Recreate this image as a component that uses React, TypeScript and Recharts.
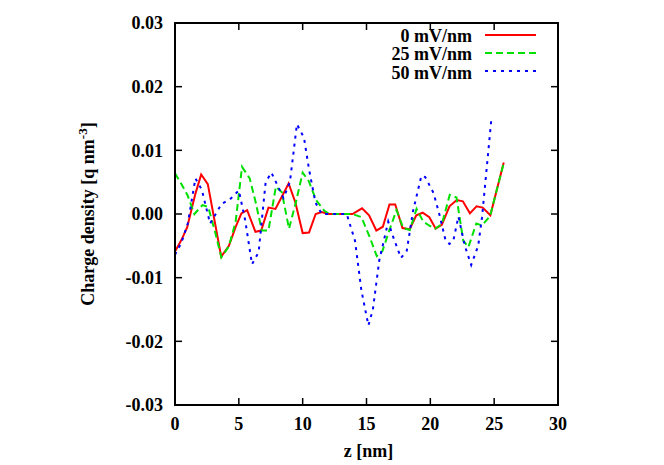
import React from 'react';
import { LineChart, Line, XAxis, YAxis, Legend } from 'recharts';

// z positions [nm] and charge density [q nm^-3]
const redZ = [0, 0.5, 0.95, 1.6, 2.05, 2.57, 3.62, 4.22, 4.76, 5.2, 5.65, 6.3, 6.75, 7.32, 7.87, 8.9, 9.43, 10.0, 10.5, 11.02, 11.5, 12.0, 13.9, 14.65, 15.2, 15.77, 16.28, 16.8, 17.25, 17.82, 18.38, 18.9, 19.4, 19.92, 20.42, 20.9, 21.5, 22.07, 22.55, 23.1, 23.62, 24.1, 24.7, 25.75];
const redRho = [-0.0059, -0.0041, -0.0021, 0.0032, 0.0062, 0.0047, -0.0067, -0.005, -0.002, 0.0001, 0.0006, -0.0028, -0.0026, 0.001, 0.0008, 0.0048, 0.0018, -0.003, -0.0029, 0.0, 0.0003, 0.0, 0.0, 0.0009, -0.0002, -0.0026, -0.002, 0.0015, 0.0015, -0.0022, -0.0024, -0.0002, 0.0002, -0.0005, -0.0023, -0.0017, 0.0012, 0.0022, 0.002, 0.0001, 0.0012, 0.001, -0.0002, 0.0081];

const greenZ = [0, 0.5, 0.97, 1.52, 2.15, 2.6, 3.1, 3.63, 4.22, 4.75, 5.25, 5.85, 6.3, 6.8, 7.32, 7.9, 8.37, 8.93, 9.45, 10.0, 10.47, 11.05, 11.7, 12.1, 13.9, 14.6, 15.25, 15.8, 16.25, 16.8, 17.35, 17.88, 18.4, 18.92, 19.45, 19.9, 20.38, 20.9, 21.52, 22.05, 22.58, 22.98, 23.6, 24.05, 24.68, 25.75];
const greenRho = [0.0064, 0.0047, 0.003, 0.0, 0.0014, 0.0011, -0.0025, -0.0068, -0.0051, -0.0012, 0.0074, 0.0056, 0.002, -0.0026, -0.0026, 0.0043, 0.0034, -0.0023, 0.0017, 0.0065, 0.0052, 0.0022, 0.0005, 0.0, 0.0, -0.0005, -0.0036, -0.0066, -0.0058, -0.0025, 0.0006, -0.0022, -0.0025, 0.0008, -0.0012, -0.0018, -0.0023, -0.0016, 0.003, 0.0026, -0.0042, -0.0052, -0.0015, -0.0018, -0.0003, 0.008];

const blueZ = [0, 0.5, 1.0, 1.6, 2.1, 2.75, 3.65, 4.3, 5.0, 5.5, 6.03, 6.55, 7.1, 7.55, 8.1, 8.5, 9.0, 9.55, 10.1, 10.5, 11.0, 11.5, 13.45, 14.1, 14.6, 15.15, 15.5, 16.0, 16.7, 17.0, 17.7, 18.15, 18.65, 19.3, 19.6, 20.25, 20.7, 21.2, 21.5, 21.8, 22.2, 22.7, 23.2, 23.75, 24.05, 24.78];
const blueRho = [-0.0064, -0.0045, -0.0015, 0.0056, 0.0038, -0.0015, 0.0016, 0.0023, 0.0037, -0.001, -0.0079, -0.006, 0.005, 0.0065, 0.0042, 0.0025, 0.005, 0.0141, 0.012, 0.007, 0.0018, 0.0, 0.0, -0.0042, -0.012, -0.0175, -0.015, -0.0073, -0.0012, -0.0031, -0.0069, -0.0058, 0.0005, 0.006, 0.0058, 0.0033, 0.0, -0.0042, -0.0047, -0.0042, -0.0004, -0.005, -0.008, -0.005, -0.0005, 0.0149];

const xTicks = [0, 5, 10, 15, 20, 25, 30];
const yTicks = [-0.03, -0.02, -0.01, 0, 0.01, 0.02, 0.03];

const zip = (zs: number[], rs: number[]) => zs.map((z, i) => ({ z, rho: rs[i] }));

const SERIES = [
  { name: '0 mV/nm', color: '#ff0000', dash: undefined, data: zip(redZ, redRho) },
  { name: '25 mV/nm', color: '#00e000', dash: '7 4', data: zip(greenZ, greenRho) },
  { name: '50 mV/nm', color: '#0000ff', dash: '3 5', data: zip(blueZ, blueRho) },
];

// chart geometry
const W = 664;
const H = 465;
const MARGIN = { top: 23, right: 106, bottom: 59, left: 174 };
const Y_AXIS_W = 1;
const X_AXIS_H = 1;
const PLOT_X = MARGIN.left + Y_AXIS_W;
const PLOT_Y = MARGIN.top;
const PLOT_W = W - MARGIN.left - MARGIN.right - Y_AXIS_W;
const PLOT_H = H - MARGIN.top - MARGIN.bottom - X_AXIS_H;
const TICK_LEN = 7;
const LABEL_GAP = 12;

const FONT = '"Liberation Serif", "Times New Roman", serif';
const textStyle = { fontFamily: FONT, fontSize: 18, fontWeight: 'bold', fill: '#000' };

const KeyBox = () => (
  <div style={{ fontFamily: FONT, fontSize: 18, fontWeight: 'bold', color: '#000' }}>
    {SERIES.map((s) => (
      <div key={s.name} style={{ display: 'flex', alignItems: 'center', height: 18.3, lineHeight: '18.3px' }}>
        <span style={{ width: 92, textAlign: 'right', whiteSpace: 'nowrap' }}>{s.name}</span>
        <svg width={51} height={18} style={{ marginLeft: 13, marginTop: -3 }}>
          <line x1={0} x2={51} y1={9} y2={9} stroke={s.color} strokeWidth={2} strokeDasharray={s.dash} />
        </svg>
      </div>
    ))}
  </div>
);

// x tick: label plus inward marks on the bottom and (mirrored) top border
const XTick = (props: any) => {
  const { x, y, payload } = props;
  const cx = payload.coordinate;
  const base = y - LABEL_GAP;
  return (
    <g>
      <path d={`M${cx},${base}V${base - TICK_LEN}`} stroke="#000" strokeWidth={1.5} fill="none" />
      <path d={`M${cx},${base - PLOT_H}V${base - PLOT_H + TICK_LEN}`} stroke="#000" strokeWidth={1.5} fill="none" />
      <text x={x} y={y} dy="0.71em" textAnchor="middle" style={textStyle}>
        {payload.value}
      </text>
    </g>
  );
};

// y tick: label plus inward marks on the left and (mirrored) right border
const YTick = (props: any) => {
  const { x, y, payload } = props;
  const cy = payload.coordinate;
  const base = x + LABEL_GAP;
  return (
    <g>
      <path d={`M${base},${cy}H${base + TICK_LEN}`} stroke="#000" strokeWidth={1.5} fill="none" />
      <path d={`M${base + PLOT_W},${cy}H${base + PLOT_W - TICK_LEN}`} stroke="#000" strokeWidth={1.5} fill="none" />
      <text x={x} y={y} dy="0.355em" textAnchor="end" style={textStyle}>
        {Number(payload.value).toFixed(2)}
      </text>
    </g>
  );
};

const XTitle = (props: any) => {
  const { x, y, width } = props.viewBox;
  return (
    <text x={x + width / 2 + 2} y={y + 52} textAnchor="middle" style={textStyle}>
      z [nm]
    </text>
  );
};

const YTitle = (props: any) => {
  const { x, y, height } = props.viewBox;
  const cx = x - 80;
  const cy = y + height / 2;
  return (
    <text x={cx} y={cy} textAnchor="middle" transform={`rotate(-90 ${cx} ${cy})`} style={textStyle}>
      Charge density [q nm
      <tspan dy={-7} fontSize={13}>-3</tspan>
      <tspan dy={7}>]</tspan>
    </text>
  );
};

const App: React.FC = () => {
  return (
    <div style={{ position: 'absolute', left: 0, top: 0, width: W, height: H, background: '#fff' }}>
      <LineChart width={W} height={H} margin={MARGIN}>
        <XAxis
          type="number"
          dataKey="z"
          domain={[0, 30]}
          ticks={xTicks}
          height={X_AXIS_H}
          tickSize={0}
          tickMargin={LABEL_GAP}
          tick={<XTick />}
          axisLine={false}
          tickLine={false}
          label={<XTitle />}
        />
        <YAxis
          type="number"
          domain={[-0.03, 0.03]}
          ticks={yTicks}
          width={Y_AXIS_W}
          tickSize={0}
          tickMargin={LABEL_GAP}
          tick={<YTick />}
          axisLine={false}
          tickLine={false}
          label={<YTitle />}
        />
        <Legend
          layout="vertical"
          align="center"
          verticalAlign="middle"
          wrapperStyle={{ top: 27, left: 380, width: 170 }}
          content={() => <KeyBox />}
        />
        {SERIES.map((s) => (
          <Line
            key={s.name}
            data={s.data}
            dataKey="rho"
            name={s.name}
            type="linear"
            stroke={s.color}
            strokeWidth={2}
            strokeDasharray={s.dash}
            dot={false}
            activeDot={false}
            isAnimationActive={false}
          />
        ))}
      </LineChart>
      {/* plot border box */}
      <div
        style={{
          position: 'absolute',
          left: PLOT_X - 1,
          top: PLOT_Y - 1,
          width: PLOT_W + 2,
          height: PLOT_H + 2,
          boxSizing: 'border-box',
          border: '2px solid #000',
          pointerEvents: 'none',
        }}
      />
    </div>
  );
};

export default App;
